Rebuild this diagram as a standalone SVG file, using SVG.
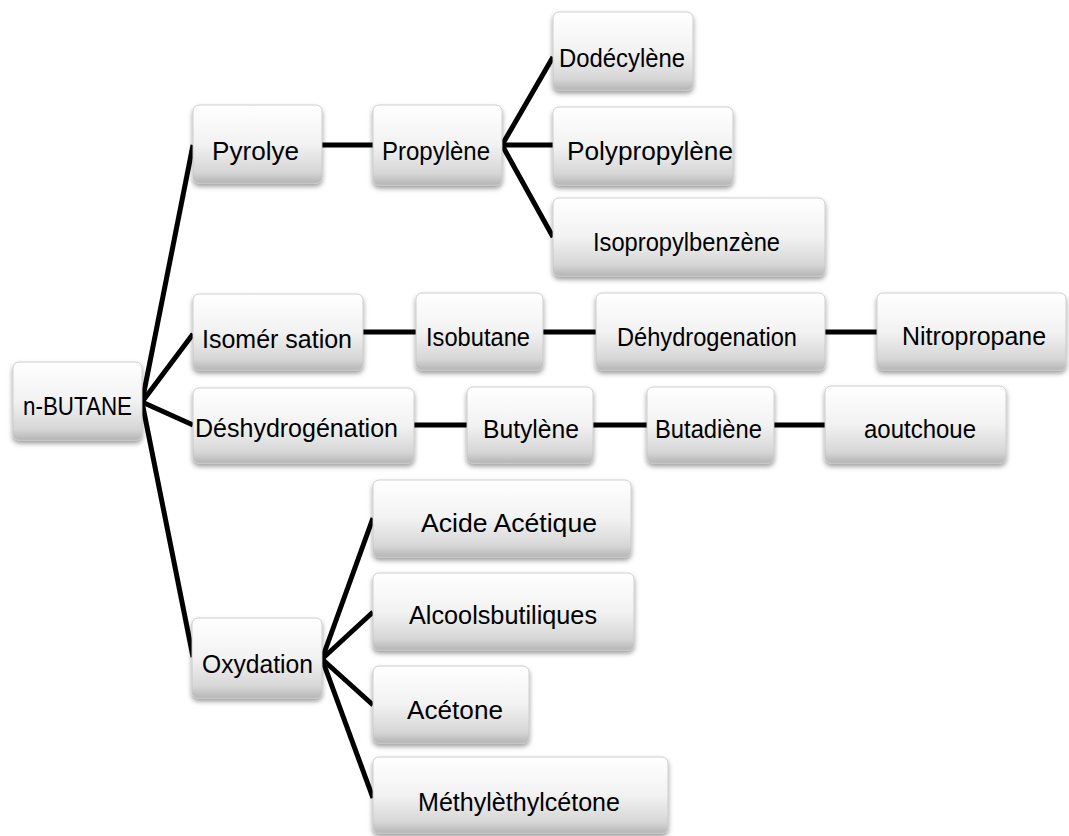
<svg xmlns="http://www.w3.org/2000/svg" width="1069" height="836" viewBox="0 0 1069 836">
<defs>
<linearGradient id="g" x1="0" y1="0" x2="0" y2="1">
<stop offset="0" stop-color="#ffffff"/>
<stop offset="0.5" stop-color="#f2f2f2"/>
<stop offset="0.86" stop-color="#d6d6d6"/>
<stop offset="1" stop-color="#b5b5b5"/>
</linearGradient>
<filter id="sh" x="-10%" y="-20%" width="120%" height="150%">
<feDropShadow dx="0" dy="3" stdDeviation="2.5" flood-color="#000" flood-opacity="0.4"/>
</filter>
</defs>
<style>
.b{fill:url(#g);stroke:#c4c4c4;stroke-width:0.8;filter:url(#sh)}
.t{font-family:"Liberation Sans",Arial,sans-serif;font-size:26px;fill:#000}
.c line{stroke:#000;stroke-width:5;stroke-linecap:butt}
</style>
<rect width="1069" height="836" fill="#fff"/>
<g class="c" id="connectors">
<line x1="142" y1="402" x2="193" y2="145"/>
<line x1="142" y1="402" x2="193" y2="334"/>
<line x1="142" y1="402" x2="193" y2="425"/>
<line x1="142" y1="402" x2="193" y2="657"/>
<line x1="322" y1="145" x2="373" y2="145"/>
<line x1="502" y1="145" x2="553" y2="57"/>
<line x1="502" y1="145" x2="553" y2="145"/>
<line x1="502" y1="145" x2="553" y2="237"/>
<line x1="363" y1="332" x2="416" y2="332"/>
<line x1="543" y1="332" x2="596" y2="332"/>
<line x1="825" y1="332" x2="877" y2="332"/>
<line x1="414" y1="425" x2="467" y2="425"/>
<line x1="593" y1="425" x2="647" y2="425"/>
<line x1="774" y1="425" x2="825" y2="425"/>
<line x1="322" y1="659" x2="373" y2="518"/>
<line x1="322" y1="659" x2="373" y2="612"/>
<line x1="322" y1="659" x2="373" y2="705"/>
<line x1="322" y1="659" x2="373" y2="798"/>
</g>
<g id="n-butane"><rect class="b" x="13" y="362" width="129" height="78" rx="6"/><text class="t" x="23" y="415" textLength="109" lengthAdjust="spacingAndGlyphs">n-BUTANE</text></g>
<g id="pyrolye"><rect class="b" x="193" y="105" width="129" height="78" rx="6"/><text class="t" x="212" y="160" textLength="87" lengthAdjust="spacingAndGlyphs">Pyrolye</text></g>
<g id="propylene"><rect class="b" x="373" y="105" width="129" height="80" rx="6"/><text class="t" x="382" y="160" textLength="108" lengthAdjust="spacingAndGlyphs">Propylène</text></g>
<g id="dodecylene"><rect class="b" x="553" y="12" width="140" height="78" rx="6"/><text class="t" x="559" y="67" textLength="126" lengthAdjust="spacingAndGlyphs">Dodécylène</text></g>
<g id="polypropylene"><rect class="b" x="553" y="107" width="180" height="78" rx="6"/><text class="t" x="567" y="160" textLength="166" lengthAdjust="spacingAndGlyphs">Polypropylène</text></g>
<g id="isopropylbenzene"><rect class="b" x="553" y="198" width="272" height="78" rx="6"/><text class="t" x="593" y="251" textLength="187" lengthAdjust="spacingAndGlyphs">Isopropylbenzène</text></g>
<g id="isomerisation"><rect class="b" x="193" y="294" width="170" height="76" rx="6"/><text class="t" x="202" y="348" textLength="150" lengthAdjust="spacingAndGlyphs">Isomér sation</text></g>
<g id="isobutane"><rect class="b" x="416" y="293" width="127" height="77" rx="6"/><text class="t" x="426" y="346" textLength="104" lengthAdjust="spacingAndGlyphs">Isobutane</text></g>
<g id="dehydrogenation"><rect class="b" x="596" y="293" width="229" height="77" rx="6"/><text class="t" x="617" y="346" textLength="180" lengthAdjust="spacingAndGlyphs">Déhydrogenation</text></g>
<g id="nitropropane"><rect class="b" x="877" y="293" width="189" height="77" rx="6"/><text class="t" x="902" y="345" textLength="144" lengthAdjust="spacingAndGlyphs">Nitropropane</text></g>
<g id="deshydrogenation"><rect class="b" x="193" y="388" width="221" height="75" rx="6"/><text class="t" x="195" y="437" textLength="203" lengthAdjust="spacingAndGlyphs">Déshydrogénation</text></g>
<g id="butylene"><rect class="b" x="467" y="387" width="126" height="76" rx="6"/><text class="t" x="483" y="438" textLength="96" lengthAdjust="spacingAndGlyphs">Butylène</text></g>
<g id="butadiene"><rect class="b" x="647" y="387" width="127" height="76" rx="6"/><text class="t" x="655" y="438" textLength="107" lengthAdjust="spacingAndGlyphs">Butadiène</text></g>
<g id="caoutchouc"><rect class="b" x="825" y="386" width="181" height="77" rx="6"/><text class="t" x="864" y="438" textLength="112" lengthAdjust="spacingAndGlyphs">aoutchoue</text></g>
<g id="oxydation"><rect class="b" x="192" y="618" width="130" height="80" rx="6"/><text class="t" x="202" y="673" textLength="111" lengthAdjust="spacingAndGlyphs">Oxydation</text></g>
<g id="acide-acetique"><rect class="b" x="373" y="480" width="258" height="77" rx="6"/><text class="t" x="421" y="532" textLength="176" lengthAdjust="spacingAndGlyphs">Acide Acétique</text></g>
<g id="alcools"><rect class="b" x="373" y="573" width="261" height="77" rx="6"/><text class="t" x="409" y="624" textLength="188" lengthAdjust="spacingAndGlyphs">Alcoolsbutiliques</text></g>
<g id="acetone"><rect class="b" x="373" y="666" width="156" height="77" rx="6"/><text class="t" x="407" y="719" textLength="96" lengthAdjust="spacingAndGlyphs">Acétone</text></g>
<g id="mec"><rect class="b" x="373" y="757" width="295" height="76" rx="6"/><text class="t" x="418" y="811" textLength="202" lengthAdjust="spacingAndGlyphs">Méthylèthylcétone</text></g>
</svg>
